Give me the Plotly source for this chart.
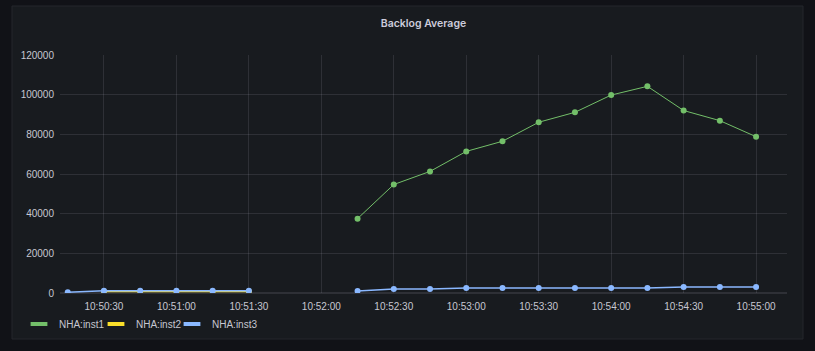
import plotly.graph_objects as go

times = ["10:50:15", "10:50:30", "10:50:45", "10:51:00", "10:51:15", "10:51:30",
         "10:51:45", "10:52:00",
         "10:52:15", "10:52:30", "10:52:45", "10:53:00", "10:53:15", "10:53:30",
         "10:53:45", "10:54:00", "10:54:15", "10:54:30", "10:54:45", "10:55:00"]
inst1 = [None, None, None, None, None, None, None, None,
         37500, 54700, 61300, 71400, 76500, 86100, 91100, 99800, 104200, 92000, 86900, 78800]
inst2 = [None, 800, 800, 800, 800, 800, None, None,
         None, None, None, None, None, None, None, None, None, None, None, None]
inst3 = [400, 1100, 1100, 1100, 1100, 1100, None, None,
         1000, 2000, 2000, 2500, 2500, 2500, 2500, 2500, 2500, 3000, 3000, 3000]
series_names = ["NHA:inst1", "NHA:inst2", "NHA:inst3"]
colors = ["#73bf69", "#fade2a", "#8ab8ff"]
title = "Backlog Average"

L, R, T, B = 60, 28, 55, 58
W, H = 815, 351
pw, ph = W - L - R, H - T - B
def px(xp): return (xp - L) / pw
def py(yp): return (H - B - yp) / ph

FONT = "Liberation Sans, Arial, sans-serif"
TXT = "#c7c7d1"

x = ["2024-01-01 " + t for t in times]
fig = go.Figure()
for name, vals, c, w in zip(series_names, [inst1, inst2, inst3], colors, [1, 1.5, 1.5]):
    fig.add_trace(go.Scatter(x=x, y=vals, mode="lines+markers", name=name,
                             line=dict(color=c, width=w), marker=dict(color=c, size=6),
                             connectgaps=False, showlegend=False))

legend_keys = ["legend", "legend2", "legend3"]
legend_text_x = [59, 136, 212]
legend_layout = {}
for name, c, key, tx in zip(series_names, colors, legend_keys, legend_text_x):
    fig.add_trace(go.Scatter(x=[None], y=[None], mode="markers", name=name, legend=key,
                             marker=dict(symbol="line-ew", size=12, color=c,
                                         line=dict(color=c, width=4))))
    legend_layout[key] = dict(x=px(tx - 40), y=py(324), xanchor="left", yanchor="middle",
                              bgcolor="rgba(0,0,0,0)", font=dict(family=FONT, size=10, color=TXT))

fig.add_shape(type="rect", xref="paper", yref="paper", x0=px(12), x1=px(803), y0=py(339), y1=py(6),
              fillcolor="#181b1f", line=dict(color="#24272d", width=1), layer="below")

grid = "rgba(204,204,220,0.12)"
fig.update_layout(
    width=W, height=H, margin=dict(l=L, r=R, t=T, b=B),
    paper_bgcolor="#111217", plot_bgcolor="rgba(0,0,0,0)",
    font=dict(family=FONT, size=10, color=TXT),
    title=dict(text=title, x=0.5, xref="paper", xanchor="center", y=1 - 23.5 / H, yanchor="middle",
               font=dict(family="Inter", size=10.5, color="#ccccdc", weight=600)),
    xaxis=dict(type="date", range=["2024-01-01 10:50:11.8", "2024-01-01 10:55:12.8"],
               tick0="2024-01-01 10:50:00", dtick=30000, tickformat="%H:%M:%S",
               showgrid=True, gridcolor=grid, zeroline=False, showline=False, ticks="",
               ticklabelstandoff=6, tickfont=dict(family=FONT, size=10, color=TXT)),
    yaxis=dict(range=[0, 120000], dtick=20000, showgrid=True, gridcolor=grid,
               zeroline=True, zerolinecolor=grid, showline=False, ticks="",
               tickformat="d", ticklabelstandoff=5, tickfont=dict(family=FONT, size=10, color=TXT)),
    **legend_layout,
)
fig.write_html("out.html")
